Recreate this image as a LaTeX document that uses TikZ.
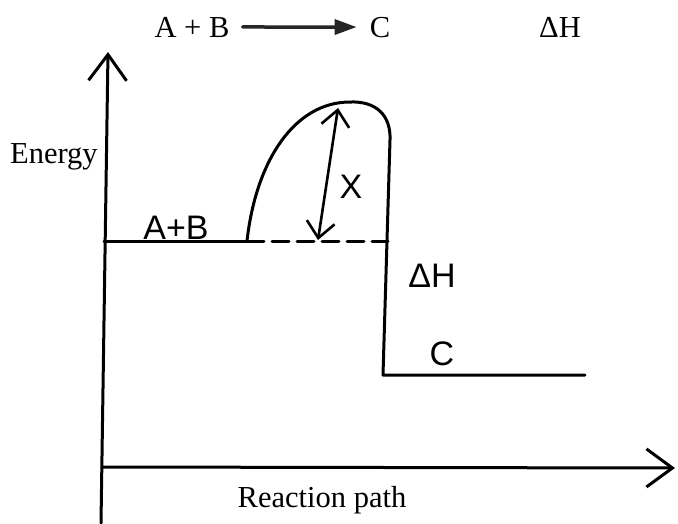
\documentclass[tikz,border=0pt]{standalone}
\usepackage{fontspec}
\setmainfont{Liberation Serif}
\newfontfamily\handfont{Liberation Sans}
\usetikzlibrary{arrows.meta}

\begin{document}
\begin{tikzpicture}[
    x=1pt, y=-1pt,
    line cap=round,
    printed/.style={
        font=\fontsize{30.5}{36}\selectfont,
        inner sep=0pt,
        anchor=base
    },
    handlabel/.style={
        font=\handfont\fontsize{34}{40}\selectfont,
        inner sep=0pt
    },
    axis/.style={
        line width=3pt,
        -{Straight Barb[length=26pt, width=38pt, line width=3pt]}
    },
    curve/.style={line width=3pt, line join=round},
    level/.style={line width=3pt},
    gap/.style={
        line width=3pt,
        dash pattern=on 17pt off 8pt
    },
    barrier/.style={
        line width=2.6pt,
        {Straight Barb[length=16pt, width=28pt, line width=2.6pt]}-{Straight Barb[length=16pt, width=28pt, line width=2.6pt]}
    },
    rxn/.style={
        line width=3.5pt,
        draw=black!85,
        -{Triangle[length=22pt, width=15pt]},
        shorten <=13pt,
        shorten >=13pt
    }
]

\useasboundingbox (0,0) rectangle (678,523);

\node[printed] (ab) at (192,37) {A + B};
\node[printed] (c) at (380,37) {C};
\node[printed] (dh) at (560,37) {ΔH};
\draw[rxn] (ab.east) -- (c.west);

\coordinate (origin) at (102,467);
\coordinate (ytop) at (108,52);
\coordinate (ybot) at (101,523);
\coordinate (xend) at (675,468);
\draw[axis] (ybot) -- (ytop);
\draw[axis] (origin) -- (xend);

\node[printed, anchor=base west] (energy) at (10,163) {Energy};
\node[printed] (path) at (322,507) {Reaction path};

\coordinate (reactL) at (104,241);
\coordinate (reactR) at (247,241);
\coordinate (peak) at (350,102);
\coordinate (dropT) at (390,140);
\coordinate (dropB) at (383,375);
\coordinate (prodR) at (585,375);
\coordinate (dashR) at (388,241);

\draw[level] (reactL) -- (reactR);
\draw[curve] (reactR) .. controls (256,160) and (295,102) .. (peak)
    .. controls (376,101) and (391,115) .. (dropT) -- (dropB) -- (prodR);
\draw[gap] (reactR) -- (dashR);

\coordinate (xlow) at (318,240);
\coordinate (xhigh) at (338,108);
\draw[barrier] (xlow) -- (xhigh);

\node[handlabel] (lab) at (176,228) {A+B};
\node[handlabel] (labx) at (351,187) {X};
\node[handlabel] (labdh) at (432,276) {ΔH};
\node[handlabel] (labc) at (442,354) {C};

\end{tikzpicture}
\end{document}
